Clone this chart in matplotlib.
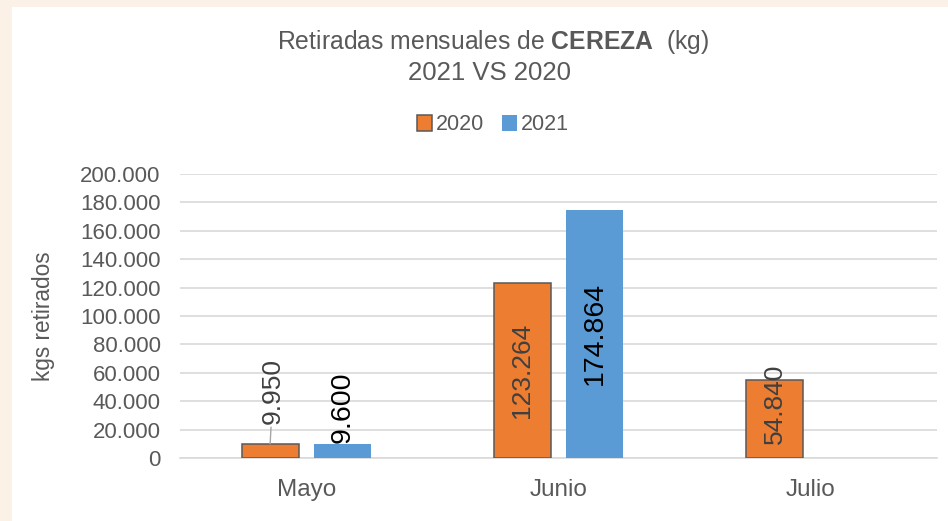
import numpy as np
import matplotlib
matplotlib.use("Agg")
from matplotlib import pyplot as plt
from matplotlib.patches import Rectangle

plt.rcParams['font.family'] = ['Liberation Sans', 'DejaVu Sans']
plt.rcParams['mathtext.fontset'] = 'custom'
plt.rcParams['mathtext.rm'] = 'Liberation Sans'
plt.rcParams['mathtext.bf'] = 'Liberation Sans:bold'

months = ['Mayo', 'Junio', 'Julio']
years = ['2020', '2021']
kg_2020 = [9950, 123264, 54840]
kg_2021 = [9600, 174864, np.nan]
yticks = np.arange(0, 200001, 20000)

orange = '#ED7D31'
blue = '#5B9BD5'
grey_txt = '#595959'


def fmt(v):
    return f'{v:,.0f}'.replace(',', '.')


fig = plt.figure(figsize=(9.48, 5.21), dpi=100, facecolor='#FCF1E7')
# white chart panel over the cream page
fig.patches.append(Rectangle((12 / 948, 0), 1, 1 - 7 / 521,
                             transform=fig.transFigure, facecolor='white',
                             edgecolor='none', zorder=0))

ax = fig.add_axes([0.19, 0.121, 0.798, 0.545])
ax.set_zorder(2)
ax.set_facecolor('white')

x = np.arange(len(months))
w = 0.226
off = w / 2 + 0.03
b20 = ax.bar(x - off, kg_2020, w, color=orange, edgecolor='#595959',
             linewidth=1.1, label=years[0], zorder=3)
b21 = ax.bar(x + off, kg_2021, w, color=blue, label=years[1], zorder=3)

ax.set_ylim(0, 200000)
ax.set_xlim(-0.5, 2.5)
ax.set_yticks(yticks)
ax.set_yticklabels([fmt(t) for t in yticks])
ax.set_xticks(x)
ax.set_xticklabels(months)
ax.tick_params(axis='both', length=0, colors=grey_txt)
ax.tick_params(axis='y', labelsize=16, pad=14)
ax.tick_params(axis='x', labelsize=17.5, pad=15)
ax.yaxis.grid(True, color='#D9D9D9', linewidth=1.2, zorder=0)
for s in ['top', 'right', 'left']:
    ax.spines[s].set_visible(False)
ax.spines['bottom'].set_color('#D9D9D9')
ax.spines['bottom'].set_linewidth(1.2)
ax.set_ylabel('kgs retirados', fontsize=16.3, color=grey_txt, labelpad=18)

# value labels, rotated like the spreadsheet ones
for i, v in enumerate(kg_2020):
    if v < 20000:
        ax.annotate(fmt(v), xy=(x[i] - off, v), xytext=(2, 14),
                    textcoords='offset points', rotation=90,
                    ha='center', va='bottom', fontsize=19, color='#404040',
                    arrowprops=dict(arrowstyle='-', color='#A6A6A6',
                                    lw=1, shrinkA=0, shrinkB=0), zorder=4)
    else:
        dy = 11 if v < 80000 else 0
        ax.annotate(fmt(v), xy=(x[i] - off, v / 2), xytext=(0, dy),
                    textcoords='offset points', rotation=90,
                    ha='center', va='center', fontsize=19, color='#404040',
                    zorder=4)
for i, v in enumerate(kg_2021):
    if np.isnan(v):
        continue
    if v < 20000:
        ax.annotate(fmt(v), xy=(x[i] + off, v), xytext=(0.5, 1),
                    textcoords='offset points', rotation=90,
                    ha='center', va='bottom', fontsize=20.5, color='black',
                    zorder=4)
    else:
        ax.annotate(fmt(v), xy=(x[i] + off, v / 2), rotation=90,
                    ha='center', va='center', fontsize=20.5, color='black',
                    zorder=4)

fig.text(493 / 948, 1 - 42 / 521,
         r'Retiradas mensuales de $\mathbf{CEREZA}$  (kg)',
         ha='center', va='center', fontsize=17.8, color=grey_txt)
fig.text(490 / 948, 1 - 73 / 521, '2021 VS 2020', ha='center', va='center',
         fontsize=18.5, color=grey_txt)

fig.legend(handles=[b20, b21], labels=years, loc='center',
           bbox_to_anchor=(493 / 948, 1 - 125 / 521), ncol=2, frameon=False,
           fontsize=15.5, labelcolor=grey_txt, handlelength=0.7,
           handleheight=0.7, handletextpad=0.2, columnspacing=0.8)

fig.savefig('out.png', dpi=100, facecolor=fig.get_facecolor())
